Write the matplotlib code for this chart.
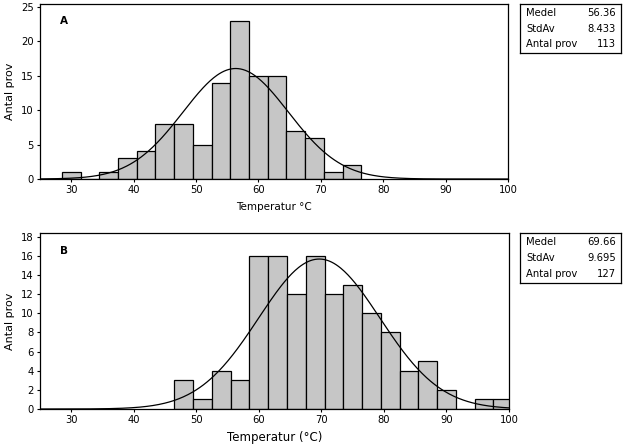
import numpy as np
import matplotlib
matplotlib.use('Agg')
import matplotlib.pyplot as plt

# bin centres (width 3) and counts
centers_a = [30, 33, 36, 39, 42, 45, 48, 51, 54, 57, 60, 63, 66, 69, 72, 75]
counts_a = [1, 0, 1, 3, 4, 8, 8, 5, 14, 23, 15, 15, 7, 6, 1, 2]
centers_b = [48, 51, 54, 57, 60, 63, 66, 69, 72, 75, 78, 81, 84, 87, 90, 93, 96, 99]
counts_b = [3, 1, 4, 3, 16, 16, 12, 16, 12, 13, 10, 8, 4, 5, 2, 0, 1, 1]

stats_a = [("Medel", "56.36"), ("StdAv", "8.433"), ("Antal prov", "113")]
stats_b = [("Medel", "69.66"), ("StdAv", "9.695"), ("Antal prov", "127")]
mean_a, sd_a, n_a = 56.36, 8.433, 113
mean_b, sd_b, n_b = 69.66, 9.695, 127
binw = 3

plt.rcParams['font.family'] = 'DejaVu Sans'
W, H = 626, 444
fig = plt.figure(figsize=(W / 100, H / 100), dpi=100)

def px_axes(l, t, r, b):
    return fig.add_axes([l / W, 1 - b / H, (r - l) / W, (b - t) / H])

def panel(ax, centers, counts, mean, sd, n, ymax, yticks, label, xlabel, xlsize, xpad):
    ax.bar(centers, counts, width=binw, color='#c6c6c6', edgecolor='black', linewidth=0.9)
    x = np.linspace(25, 100, 400)
    y = n * binw / (sd * np.sqrt(2 * np.pi)) * np.exp(-0.5 * ((x - mean) / sd) ** 2)
    ax.plot(x, y, color='black', linewidth=0.9)
    ax.set_xlim(25, 100)
    ax.set_ylim(0, ymax)
    ax.set_xticks(range(30, 101, 10))
    ax.set_yticks(yticks)
    ax.tick_params(labelsize=7.2, length=2.5, width=0.8, direction='out', pad=2)
    for s in ax.spines.values():
        s.set_linewidth(0.9)
    ax.text(0.043, 0.9, label, transform=ax.transAxes, fontsize=7.5, fontweight='bold', va='center')
    ax.set_xlabel(xlabel, fontsize=xlsize, labelpad=xpad)
    ax.set_ylabel('Antal prov', fontsize=8, labelpad=4)

def statbox(l, t, r, b, rows):
    bx = px_axes(l, t, r, b)
    bx.set_xticks([]); bx.set_yticks([])
    for s in bx.spines.values():
        s.set_linewidth(0.9)
    for i, (k, v) in enumerate(rows):
        yy = 0.82 - i * 0.32
        bx.text(0.06, yy, k, fontsize=7.2, va='center', transform=bx.transAxes)
        bx.text(0.95, yy, v, fontsize=7.2, va='center', ha='right', transform=bx.transAxes)

ax1 = px_axes(40, 4, 508, 179)
panel(ax1, centers_a, counts_a, mean_a, sd_a, n_a, 25.4, range(0, 26, 5), 'A', 'Temperatur °C', 7.5, 5)
ax2 = px_axes(40, 233, 509, 409)
panel(ax2, centers_b, counts_b, mean_b, sd_b, n_b, 18.4, range(0, 19, 2), 'B', 'Temperatur (°C)', 8.5, 4)

statbox(520, 4, 621, 53, stats_a)
statbox(520, 233, 621, 283, stats_b)

fig.savefig('out.png', dpi=100)
